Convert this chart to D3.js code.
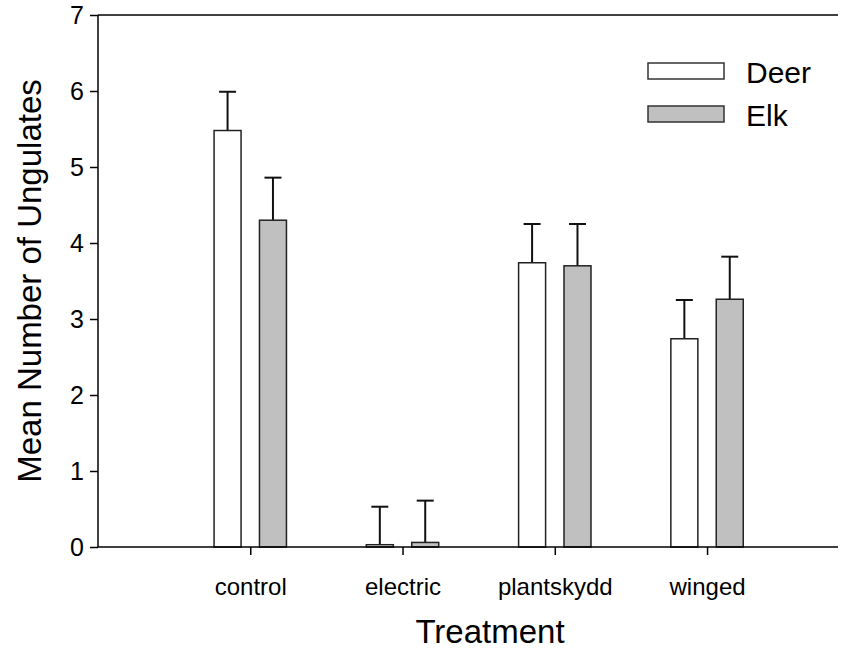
<!DOCTYPE html>
<html><head><meta charset="utf-8">
<script src="https://cdn.jsdelivr.net/npm/d3@7"></script>
<style>body{margin:0;background:#fff}svg{display:block;font-family:"Liberation Sans",Arial,sans-serif}</style>
</head><body><svg id="c" width="854" height="653"></svg>
<script>
const categories = ["control","electric","plantskydd","winged"];
const seriesNames = ["Deer","Elk"];
const deerMeans = [5.48, 0.03, 3.74, 2.74];
const deerErr   = [0.51, 0.50, 0.51, 0.51];
const elkMeans  = [4.30, 0.06, 3.70, 3.26];
const elkErr    = [0.56, 0.55, 0.55, 0.56];
const yTicks = [0,1,2,3,4,5,6,7];
const colors = ["#ffffff","#c0c0c0"];

const svg = d3.select("#c");
const L=98, R=838, T=15, B=547;
const x = d3.scaleLinear().domain([0, 4.86]).range([L, R]);
const y = d3.scaleLinear().domain([0, 7]).range([B, T]);
const barW = 27, off = 22.7;

const series = [
  {name: seriesNames[0], means: deerMeans, err: deerErr, color: colors[0], dx: -off},
  {name: seriesNames[1], means: elkMeans, err: elkErr, color: colors[1], dx: off}
];

series.forEach(s => {
  const g = svg.append("g");
  categories.forEach((c, i) => {
    const cx = x(i+1) + s.dx;
    const top = y(s.means[i] + s.err[i]);
    g.append("line").attr("x1",cx).attr("x2",cx).attr("y1",y(s.means[i])).attr("y2",top)
      .attr("stroke","#111").attr("stroke-width",2);
    g.append("line").attr("x1",cx-8.5).attr("x2",cx+8.5).attr("y1",top).attr("y2",top)
      .attr("stroke","#111").attr("stroke-width",2);
    g.append("rect").attr("x",cx-barW/2).attr("width",barW)
      .attr("y",y(s.means[i])).attr("height",y(0)-y(s.means[i]))
      .attr("fill",s.color).attr("stroke","#222").attr("stroke-width",1.5);
  });
});

// axes
const yAxis = d3.axisLeft(y).tickValues(yTicks).tickSize(8).tickPadding(6).tickFormat(d3.format("d"));
const ya = svg.append("g").attr("transform",`translate(${L},0)`).call(yAxis);
ya.select(".domain").remove();
ya.selectAll(".tick line").attr("stroke","#000").attr("stroke-width",1.5);
ya.selectAll("text").attr("font-size",25).attr("fill","#000");
svg.append("line").attr("x1",L).attr("x2",L).attr("y1",T).attr("y2",B).attr("stroke","#000").attr("stroke-width",1.5);
svg.append("line").attr("x1",L).attr("x2",R).attr("y1",T).attr("y2",T).attr("stroke","#000").attr("stroke-width",1.5);

const xAxis = d3.axisBottom(x).tickValues([1,2,3,4]).tickSize(8).tickPadding(23)
  .tickFormat(d => categories[d-1]);
const xa = svg.append("g").attr("transform",`translate(0,${B})`).call(xAxis);
xa.select(".domain").remove();
xa.selectAll(".tick line").attr("stroke","#000").attr("stroke-width",1.5);
xa.selectAll("text").attr("font-size",24).attr("fill","#000");
svg.append("line").attr("x1",L).attr("x2",R).attr("y1",B).attr("y2",B).attr("stroke","#000").attr("stroke-width",1.5);

svg.append("text").attr("x",490).attr("y",643).attr("text-anchor","middle")
  .attr("font-size",33).text("Treatment");
svg.append("text").attr("transform",`translate(41,${(T+B)/2}) rotate(-90)`).attr("text-anchor","middle")
  .attr("font-size",33).text("Mean Number of Ungulates");

// legend
series.forEach((s, i) => {
  const ly = 63 + i*43;
  svg.append("rect").attr("x",648).attr("y",ly).attr("width",76).attr("height",16)
    .attr("fill",s.color).attr("stroke","#333").attr("stroke-width",1.5);
  svg.append("text").attr("x",746).attr("y",ly+20).attr("font-size",30).text(s.name);
});
</script></body></html>
